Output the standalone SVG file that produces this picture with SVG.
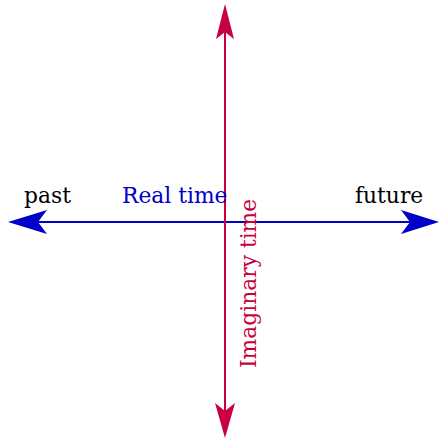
<svg xmlns="http://www.w3.org/2000/svg" width="439" height="440" viewBox="0 0 439 440">
<style>
text{font-family:"DejaVu Serif",serif;font-size:21.8px}
.blue{stroke:#0000c8;fill:none;stroke-width:2}
.red{stroke:#c80040;fill:none;stroke-width:2}
</style>
<rect width="439" height="440" fill="#fff"/>
<g id="connectors">
<line class="blue" x1="30" y1="222" x2="420" y2="222"/>
<path d="M8,222 L47,210 L38,222 L47,234 Z" fill="#0000c8"/>
<path d="M439,222 L401,210 L410,222 L401,234 Z" fill="#0000c8"/>
<line class="red" x1="225" y1="25" x2="225" y2="420"/>
<path d="M225,4 L216,39 L225,32 L234,39 Z" fill="#c80040"/>
<path d="M225,438 L215,403 L225,411 L235,403 Z" fill="#c80040"/>
</g>
<g id="past"><text x="24" y="203">past</text></g>
<g id="future"><text x="355" y="203">future</text></g>
<g id="real"><text x="122" y="203" fill="#0000c8">Real time</text></g>
<g id="imaginary"><text transform="translate(256,368) rotate(-90)" fill="#c80040">Imaginary time</text></g>
</svg>
